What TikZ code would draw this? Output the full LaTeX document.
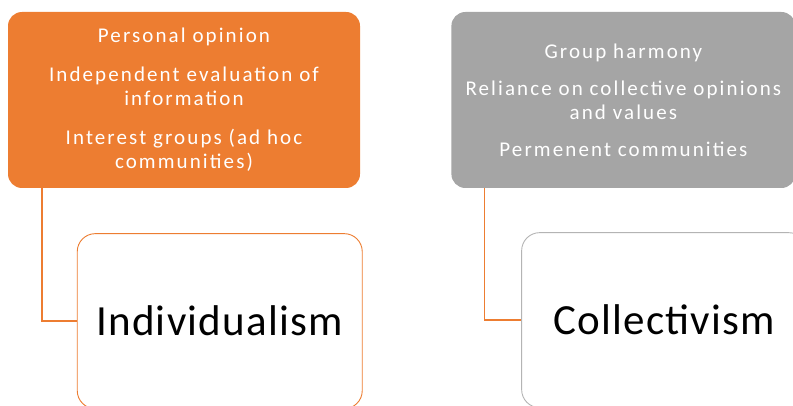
\documentclass[tikz,border=0pt]{standalone}
\usepackage{fontspec}
\setmainfont{Carlito}
\newfontfamily\boxfont[LetterSpace=10]{Carlito}
\newfontfamily\titlefont[LetterSpace=3]{Carlito}
\usetikzlibrary{positioning, calc}
\definecolor{officeorange}{HTML}{ED7D31}
\definecolor{officegray}{HTML}{A5A5A5}
\definecolor{boxline}{HTML}{B4B4B4}

\begin{document}
\begin{tikzpicture}[
  x=1pt, y=1pt,
  topbox/.style={rectangle, rounded corners=14pt, align=center, text=white, minimum height=176pt, inner sep=0pt, font=\boxfont\fontsize{21}{24}\selectfont},
  mainbox/.style={rectangle, draw, rounded corners=18pt, line width=0.9pt, fill=white, minimum width=285pt, minimum height=175pt, inner sep=0pt, font=\titlefont\fontsize{43}{50}\selectfont},
  link/.style={draw=officeorange, line width=1.4pt}
]
\useasboundingbox (0,0) rectangle (793,405);
\clip (0,0) rectangle (793,405);

%------------------------------------------------
% Individualism
%------------------------------------------------
\node[topbox, fill=officeorange, minimum width=352pt] (ind_top) at (184,305) {Personal opinion\\[15pt]Independent evaluation of\\information\\[15pt]Interest groups (ad hoc\\communities)};
\node[mainbox, draw=officeorange, anchor=north west] (ind) at ($(ind_top.south west)+(69,-45)$) {Individualism};

\draw[link] ($(ind_top.south west)!0.097!(ind_top.south east)$) |- (ind.west);

%------------------------------------------------
% Collectivism
%------------------------------------------------
\node[topbox, fill=officegray, minimum width=344pt, right=91pt of ind_top] (col_top) {Group harmony\\[13pt]Reliance on collective opinions\\and values\\[13pt]Permenent communities};
\node[mainbox, draw=boxline, anchor=north west] (col) at ($(col_top.south west)+(70,-44)$) {Collectivism};

\draw[link] ($(col_top.south west)!0.096!(col_top.south east)$) |- (col.west);

\end{tikzpicture}
\end{document}
